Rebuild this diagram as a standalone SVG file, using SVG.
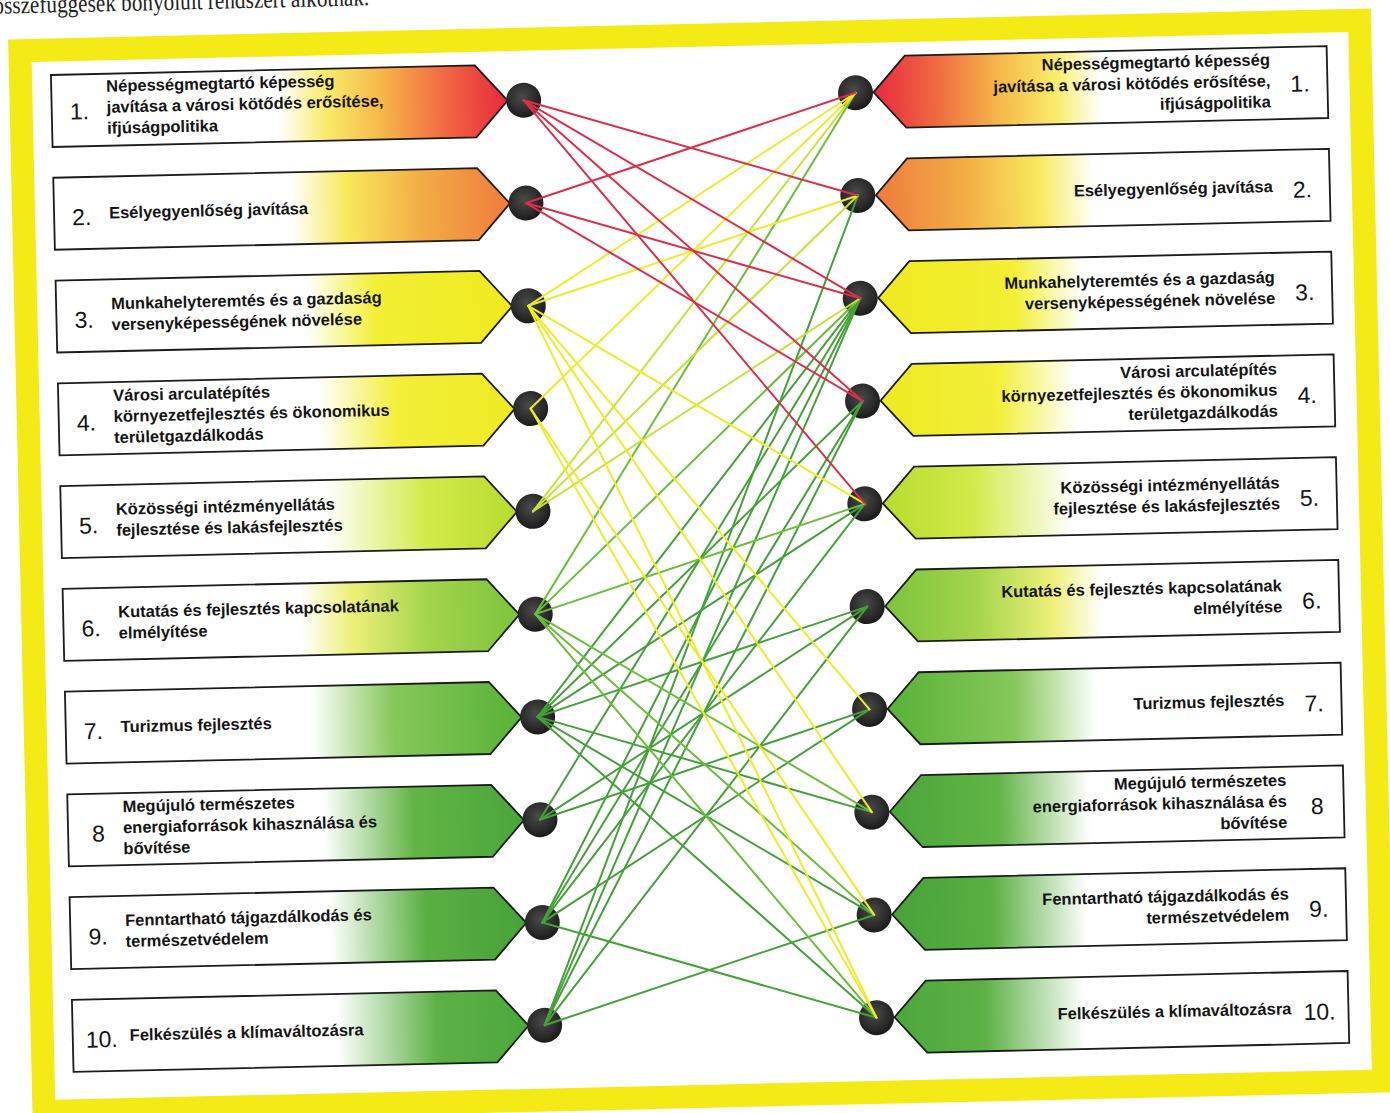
<svg xmlns="http://www.w3.org/2000/svg" xmlns:xlink="http://www.w3.org/1999/xlink" width="1390" height="1113" viewBox="0 0 1390 1113">
<style>
.box{stroke:#1b1b1b;stroke-width:1.8;stroke-linejoin:miter}
.t{font-family:'Liberation Sans',Arial,sans-serif;font-weight:bold;font-size:16.5px;fill:#141414}
.n{font-family:'Liberation Sans',Arial,sans-serif;font-size:23px;fill:#141414}
.r{text-anchor:end}
.dot{fill:url(#dotg)}
.c line{stroke-width:2;stroke-linecap:round}
.cr{stroke:#d9304a}
.cy{stroke:#ecec2c}
.cyg{stroke:#c4e23a}
.cg6{stroke:#6cbd3c}
.cg{stroke:#45a03a}
</style>
<defs>
<radialGradient id="dotg" cx="0.45" cy="0.4" r="0.6">
<stop offset="0" stop-color="#4a4a4a"/><stop offset="0.7" stop-color="#2a2a2a"/><stop offset="1" stop-color="#1a1a1a"/>
</radialGradient>
<linearGradient id="gL1" x1="0" x2="1" y1="0" y2="0"><stop offset="0" stop-color="#fff"/><stop offset="0.5" stop-color="#fff"/><stop offset="0.6" stop-color="#f9ec6a"/><stop offset="0.72" stop-color="#f6b94a"/><stop offset="0.86" stop-color="#f06a42"/><stop offset="1" stop-color="#e8283e"/></linearGradient>
<linearGradient id="gL2" x1="0" x2="1" y1="0" y2="0"><stop offset="0" stop-color="#fff"/><stop offset="0.52" stop-color="#fff"/><stop offset="0.64" stop-color="#f8ea5c"/><stop offset="0.8" stop-color="#f3ae46"/><stop offset="1" stop-color="#ee7b3c"/></linearGradient>
<linearGradient id="gL3" x1="0" x2="1" y1="0" y2="0"><stop offset="0" stop-color="#fff"/><stop offset="0.55" stop-color="#fff"/><stop offset="0.7" stop-color="#f3ef35"/><stop offset="1" stop-color="#efea1e"/></linearGradient>
<linearGradient id="gL4" x1="0" x2="1" y1="0" y2="0"><stop offset="0" stop-color="#fff"/><stop offset="0.57" stop-color="#fff"/><stop offset="0.74" stop-color="#f3ef3a"/><stop offset="1" stop-color="#eeea22"/></linearGradient>
<linearGradient id="gL5" x1="0" x2="1" y1="0" y2="0"><stop offset="0" stop-color="#fff"/><stop offset="0.58" stop-color="#fff"/><stop offset="0.8" stop-color="#d4ea4a"/><stop offset="1" stop-color="#b6dc2e"/></linearGradient>
<linearGradient id="gL6" x1="0" x2="1" y1="0" y2="0"><stop offset="0" stop-color="#fff"/><stop offset="0.52" stop-color="#fff"/><stop offset="0.63" stop-color="#eef07a"/><stop offset="0.8" stop-color="#a4d44c"/><stop offset="1" stop-color="#7cc43c"/></linearGradient>
<linearGradient id="gL7" x1="0" x2="1" y1="0" y2="0"><stop offset="0" stop-color="#fff"/><stop offset="0.54" stop-color="#fff"/><stop offset="0.72" stop-color="#86c75a"/><stop offset="1" stop-color="#58b236"/></linearGradient>
<linearGradient id="gL8" x1="0" x2="1" y1="0" y2="0"><stop offset="0" stop-color="#fff"/><stop offset="0.56" stop-color="#fff"/><stop offset="0.76" stop-color="#62b446"/><stop offset="1" stop-color="#4aa63a"/></linearGradient>
<linearGradient id="gL9" x1="0" x2="1" y1="0" y2="0"><stop offset="0" stop-color="#fff"/><stop offset="0.57" stop-color="#fff"/><stop offset="0.78" stop-color="#5aaf42"/><stop offset="1" stop-color="#47a338"/></linearGradient>
<linearGradient id="gL10" x1="0" x2="1" y1="0" y2="0"><stop offset="0" stop-color="#fff"/><stop offset="0.58" stop-color="#fff"/><stop offset="0.8" stop-color="#5db146"/><stop offset="1" stop-color="#4ca83c"/></linearGradient>
<linearGradient id="gR1" href="#gL1" xlink:href="#gL1" x1="1" x2="0" y1="0" y2="0"/>
<linearGradient id="gR2" href="#gL2" xlink:href="#gL2" x1="1" x2="0" y1="0" y2="0"/>
<linearGradient id="gR3" href="#gL3" xlink:href="#gL3" x1="1" x2="0" y1="0" y2="0"/>
<linearGradient id="gR4" href="#gL4" xlink:href="#gL4" x1="1" x2="0" y1="0" y2="0"/>
<linearGradient id="gR5" href="#gL5" xlink:href="#gL5" x1="1" x2="0" y1="0" y2="0"/>
<linearGradient id="gR6" href="#gL6" xlink:href="#gL6" x1="1" x2="0" y1="0" y2="0"/>
<linearGradient id="gR7" href="#gL7" xlink:href="#gL7" x1="1" x2="0" y1="0" y2="0"/>
<linearGradient id="gR8" href="#gL8" xlink:href="#gL8" x1="1" x2="0" y1="0" y2="0"/>
<linearGradient id="gR9" href="#gL9" xlink:href="#gL9" x1="1" x2="0" y1="0" y2="0"/>
<linearGradient id="gR10" href="#gL10" xlink:href="#gL10" x1="1" x2="0" y1="0" y2="0"/>
</defs>
<rect width="1390" height="1113" fill="#fff"/>
<g transform="rotate(-1.3 695 556)">
<text x="6" y="-2" font-family="'Liberation Serif','Times New Roman',serif" font-size="25" fill="#222" textLength="376" lengthAdjust="spacingAndGlyphs">összefüggések bonyolult rendszert alkotnak.</text>
<rect id="frame" x="31.5" y="35.5" width="1340" height="1061" fill="none" stroke="#f4ea16" stroke-width="23"/>

<g id="L1"><polygon class="box" fill="url(#gL1)" points="62,60.5 486,60.5 518,96.5 486,132.5 62,132.5"/><text class="n" x="80" y="105.5">1.</text><text class="t" x="117"><tspan x="117" y="78.5">Népességmegtartó képesség</tspan><tspan x="117" y="99.5">javítása a városi kötődés erősítése,</tspan><tspan x="117" y="120.5">ifjúságpolitika</tspan></text><circle class="dot" cx="534" cy="96.5" r="17.5"/></g>
<g id="L2"><polygon class="box" fill="url(#gL2)" points="62,163.3 486,163.3 518,199.3 486,235.3 62,235.3"/><text class="n" x="80" y="211.3">2.</text><text class="t" x="117" y="205.3">Esélyegyenlőség javítása</text><circle class="dot" cx="534" cy="199.3" r="17.5"/></g>
<g id="L3"><polygon class="box" fill="url(#gL3)" points="62,266.1 486,266.1 518,302.1 486,338.1 62,338.1"/><text class="n" x="80" y="314.1">3.</text><text class="t"><tspan x="117" y="296.1">Munkahelyteremtés és a gazdaság</tspan><tspan x="117" y="317.1">versenyképességének növelése</tspan></text><circle class="dot" cx="534" cy="302.1" r="17.5"/></g>
<g id="L4"><polygon class="box" fill="url(#gL4)" points="62,368.9 486,368.9 518,404.9 486,440.9 62,440.9"/><text class="n" x="80" y="416.9">4.</text><text class="t"><tspan x="117" y="387.9">Városi arculatépítés</tspan><tspan x="117" y="408.9">környezetfejlesztés és ökonomikus</tspan><tspan x="117" y="429.9">területgazdálkodás</tspan></text><circle class="dot" cx="534" cy="404.9" r="17.5"/></g>
<g id="L5"><polygon class="box" fill="url(#gL5)" points="62,471.7 486,471.7 518,507.7 486,543.7 62,543.7"/><text class="n" x="80" y="519.7">5.</text><text class="t"><tspan x="117" y="501.7">Közösségi intézményellátás</tspan><tspan x="117" y="522.7">fejlesztése és lakásfejlesztés</tspan></text><circle class="dot" cx="534" cy="507.7" r="17.5"/></g>
<g id="L6"><polygon class="box" fill="url(#gL6)" points="62,574.5 486,574.5 518,610.5 486,646.5 62,646.5"/><text class="n" x="80" y="622.5">6.</text><text class="t"><tspan x="117" y="604.5">Kutatás és fejlesztés kapcsolatának</tspan><tspan x="117" y="625.5">elmélyítése</tspan></text><circle class="dot" cx="534" cy="610.5" r="17.5"/></g>
<g id="L7"><polygon class="box" fill="url(#gL7)" points="62,677.3 486,677.3 518,713.3 486,749.3 62,749.3"/><text class="n" x="80" y="725.3">7.</text><text class="t" x="117" y="719.3">Turizmus fejlesztés</text><circle class="dot" cx="534" cy="713.3" r="17.5"/></g>
<g id="L8"><polygon class="box" fill="url(#gL8)" points="62,780.1 486,780.1 518,816.1 486,852.1 62,852.1"/><text class="n" x="86" y="828.1">8</text><text class="t"><tspan x="117" y="799.1">Megújuló természetes</tspan><tspan x="117" y="820.1">energiaforrások kihasználása és</tspan><tspan x="117" y="841.1">bővítése</tspan></text><circle class="dot" cx="534" cy="816.1" r="17.5"/></g>
<g id="L9"><polygon class="box" fill="url(#gL9)" points="62,882.9 486,882.9 518,918.9 486,954.9 62,954.9"/><text class="n" x="80" y="930.9">9.</text><text class="t"><tspan x="117" y="912.9">Fenntartható tájgazdálkodás és</tspan><tspan x="117" y="933.9">természetvédelem</tspan></text><circle class="dot" cx="534" cy="918.9" r="17.5"/></g>
<g id="L10"><polygon class="box" fill="url(#gL10)" points="62,985.7 486,985.7 518,1021.7 486,1057.7 62,1057.7"/><text class="n" x="75" y="1033.7">10.</text><text class="t" x="119" y="1027.7">Felkészülés a klímaváltozásra</text><circle class="dot" cx="534" cy="1021.7" r="17.5"/></g>

<g id="R1"><polygon class="box" fill="url(#gR1)" points="1338,60.5 916,60.5 884,96.5 916,132.5 1338,132.5"/><text class="n" x="1301" y="105.5">1.</text><text class="t r"><tspan x="1281" y="78.5">Népességmegtartó képesség</tspan><tspan x="1281" y="99.5">javítása a városi kötődés erősítése,</tspan><tspan x="1281" y="120.5">ifjúságpolitika</tspan></text><circle class="dot" cx="866" cy="96.5" r="17.5"/></g>
<g id="R2"><polygon class="box" fill="url(#gR2)" points="1338,163.3 916,163.3 884,199.3 916,235.3 1338,235.3"/><text class="n" x="1301" y="211.3">2.</text><text class="t r" x="1281" y="205.3">Esélyegyenlőség javítása</text><circle class="dot" cx="866" cy="199.3" r="17.5"/></g>
<g id="R3"><polygon class="box" fill="url(#gR3)" points="1338,266.1 916,266.1 884,302.1 916,338.1 1338,338.1"/><text class="n" x="1301" y="314.1">3.</text><text class="t r"><tspan x="1281" y="296.1">Munkahelyteremtés és a gazdaság</tspan><tspan x="1281" y="317.1">versenyképességének növelése</tspan></text><circle class="dot" cx="866" cy="302.1" r="17.5"/></g>
<g id="R4"><polygon class="box" fill="url(#gR4)" points="1338,368.9 916,368.9 884,404.9 916,440.9 1338,440.9"/><text class="n" x="1301" y="416.9">4.</text><text class="t r"><tspan x="1281" y="387.9">Városi arculatépítés</tspan><tspan x="1281" y="408.9">környezetfejlesztés és ökonomikus</tspan><tspan x="1281" y="429.9">területgazdálkodás</tspan></text><circle class="dot" cx="866" cy="404.9" r="17.5"/></g>
<g id="R5"><polygon class="box" fill="url(#gR5)" points="1338,471.7 916,471.7 884,507.7 916,543.7 1338,543.7"/><text class="n" x="1301" y="519.7">5.</text><text class="t r"><tspan x="1281" y="501.7">Közösségi intézményellátás</tspan><tspan x="1281" y="522.7">fejlesztése és lakásfejlesztés</tspan></text><circle class="dot" cx="866" cy="507.7" r="17.5"/></g>
<g id="R6"><polygon class="box" fill="url(#gR6)" points="1338,574.5 916,574.5 884,610.5 916,646.5 1338,646.5"/><text class="n" x="1301" y="622.5">6.</text><text class="t r"><tspan x="1281" y="604.5">Kutatás és fejlesztés kapcsolatának</tspan><tspan x="1281" y="625.5">elmélyítése</tspan></text><circle class="dot" cx="866" cy="610.5" r="17.5"/></g>
<g id="R7"><polygon class="box" fill="url(#gR7)" points="1338,677.3 916,677.3 884,713.3 916,749.3 1338,749.3"/><text class="n" x="1301" y="725.3">7.</text><text class="t r" x="1281" y="719.3">Turizmus fejlesztés</text><circle class="dot" cx="866" cy="713.3" r="17.5"/></g>
<g id="R8"><polygon class="box" fill="url(#gR8)" points="1338,780.1 916,780.1 884,816.1 916,852.1 1338,852.1"/><text class="n" x="1305" y="828.1">8</text><text class="t r"><tspan x="1281" y="799.1">Megújuló természetes</tspan><tspan x="1281" y="820.1">energiaforrások kihasználása és</tspan><tspan x="1281" y="841.1">bővítése</tspan></text><circle class="dot" cx="866" cy="816.1" r="17.5"/></g>
<g id="R9"><polygon class="box" fill="url(#gR9)" points="1338,882.9 916,882.9 884,918.9 916,954.9 1338,954.9"/><text class="n" x="1301" y="930.9">9.</text><text class="t r"><tspan x="1281" y="912.9">Fenntartható tájgazdálkodás és</tspan><tspan x="1281" y="933.9">természetvédelem</tspan></text><circle class="dot" cx="866" cy="918.9" r="17.5"/></g>
<g id="R10"><polygon class="box" fill="url(#gR10)" points="1338,985.7 916,985.7 884,1021.7 916,1057.7 1338,1057.7"/><text class="n" x="1293" y="1033.7">10.</text><text class="t r" x="1281" y="1027.7">Felkészülés a klímaváltozásra</text><circle class="dot" cx="866" cy="1021.7" r="17.5"/></g>

<g id="connectors" class="c">
<g class="cg">
<line x1="534" y1="713.3" x2="866" y2="302.1"/><line x1="534" y1="713.3" x2="866" y2="404.9"/><line x1="534" y1="713.3" x2="866" y2="507.7"/><line x1="534" y1="713.3" x2="866" y2="610.5"/><line x1="534" y1="713.3" x2="866" y2="816.1"/><line x1="534" y1="713.3" x2="866" y2="918.9"/><line x1="534" y1="713.3" x2="866" y2="1021.7"/>
<line x1="534" y1="816.1" x2="866" y2="302.1"/><line x1="534" y1="816.1" x2="866" y2="610.5"/><line x1="534" y1="816.1" x2="866" y2="713.3"/>
<line x1="534" y1="918.9" x2="866" y2="302.1"/><line x1="534" y1="918.9" x2="866" y2="404.9"/><line x1="534" y1="918.9" x2="866" y2="507.7"/><line x1="534" y1="918.9" x2="866" y2="713.3"/><line x1="534" y1="918.9" x2="866" y2="1021.7"/>
<line x1="534" y1="1021.7" x2="866" y2="199.3"/><line x1="534" y1="1021.7" x2="866" y2="302.1"/><line x1="534" y1="1021.7" x2="866" y2="404.9"/><line x1="534" y1="1021.7" x2="866" y2="610.5"/><line x1="534" y1="1021.7" x2="866" y2="918.9"/>
</g>
<g class="cg6">
<line x1="534" y1="610.5" x2="866" y2="96.5"/><line x1="534" y1="610.5" x2="866" y2="302.1"/><line x1="534" y1="610.5" x2="866" y2="507.7"/><line x1="534" y1="610.5" x2="866" y2="816.1"/><line x1="534" y1="610.5" x2="866" y2="918.9"/><line x1="534" y1="610.5" x2="866" y2="1021.7"/>
</g>
<g class="cyg">
<line x1="534" y1="507.7" x2="866" y2="96.5"/><line x1="534" y1="507.7" x2="866" y2="199.3"/><line x1="534" y1="507.7" x2="866" y2="302.1"/>
</g>
<g class="cy">
<line x1="534" y1="302.1" x2="866" y2="96.5"/><line x1="534" y1="302.1" x2="866" y2="199.3"/><line x1="534" y1="302.1" x2="866" y2="507.7"/><line x1="534" y1="302.1" x2="866" y2="713.3"/><line x1="534" y1="302.1" x2="866" y2="816.1"/><line x1="534" y1="302.1" x2="866" y2="1021.7"/>
<line x1="534" y1="404.9" x2="866" y2="96.5"/><line x1="534" y1="404.9" x2="866" y2="918.9"/><line x1="534" y1="404.9" x2="866" y2="1021.7"/>
</g>
<g class="cr">
<line x1="534" y1="96.5" x2="866" y2="199.3"/><line x1="534" y1="96.5" x2="866" y2="302.1"/><line x1="534" y1="96.5" x2="866" y2="404.9"/><line x1="534" y1="96.5" x2="866" y2="507.7"/>
<line x1="534" y1="199.3" x2="866" y2="96.5"/><line x1="534" y1="199.3" x2="866" y2="302.1"/><line x1="534" y1="199.3" x2="866" y2="404.9"/>
</g>
</g>
</g>
</svg>
